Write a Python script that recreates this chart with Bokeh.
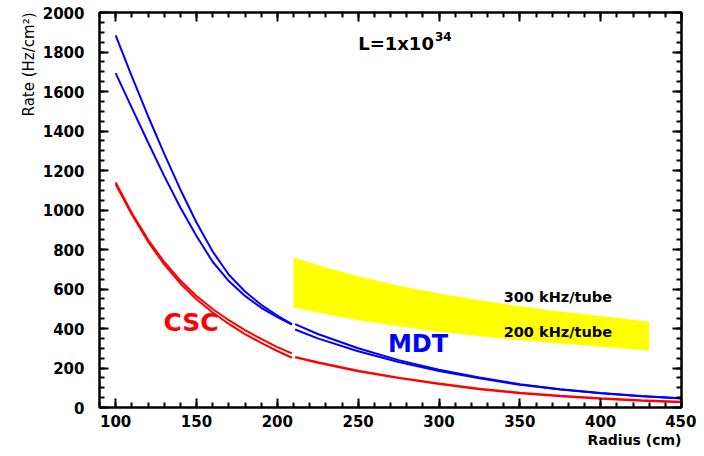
from bokeh.plotting import figure
from bokeh.models import Range1d, LinearAxis, Label, SingleIntervalTicker, Title, CustomJSTickFormatter
from bokeh.embed import file_html
from bokeh.resources import INLINE

# ---- data ----
r_in = [100, 110, 120, 130, 140, 150, 160, 170, 180, 190, 200, 209]
mdt_in_hi = [1884, 1677, 1476, 1285, 1104, 937, 790, 672, 587, 520, 465, 422]
mdt_in_lo = [1693, 1517, 1343, 1173, 1013, 868, 738, 640, 565, 505, 458, 420]
csc_in_a = [1140, 985, 850, 737, 643, 565, 499, 442, 392, 347, 306, 274]
csc_in_b = [1130, 977, 840, 725, 628, 548, 481, 423, 372, 327, 286, 252]

r_out = [211, 225, 250, 275, 300, 325, 350, 375, 400, 425, 450]
mdt_out_hi = [422, 372, 300, 240, 191, 152, 118, 93, 73, 58, 47]
mdt_out_lo = [395, 350, 285, 230, 185, 148, 115, 91, 72, 57, 46]
csc_out = [255, 228, 185, 150, 120, 94, 74, 58, 46, 36, 28]

band_r = [210, 230, 250, 275, 300, 325, 350, 375, 400, 430]
band_lo = [506, 472, 442, 411, 384, 361, 341, 324, 308, 289]
band_hi = [760, 709, 664, 617, 577, 543, 513, 486, 463, 434]

FONT = "DejaVu Sans"

p = figure(width=696, height=448, output_backend="svg", toolbar_location=None,
           x_range=Range1d(90, 450), y_range=Range1d(0, 2000),
           min_border_left=99, min_border_right=15, min_border_top=12, min_border_bottom=41)
p.background_fill_color = "white"
p.border_fill_color = "white"
p.xgrid.visible = False
p.ygrid.visible = False
p.outline_line_color = "black"
p.outline_line_width = 2

def style_axis(ax, labels=True):
    ax.axis_line_width = 2
    ax.axis_line_color = "black"
    ax.major_tick_in = 9
    ax.major_tick_out = 0
    ax.minor_tick_in = 5
    ax.minor_tick_out = 0
    ax.major_tick_line_width = 2
    ax.minor_tick_line_width = 2
    ax.major_tick_line_color = "black"
    ax.minor_tick_line_color = "black"
    if labels:
        ax.major_label_text_font = FONT
        ax.major_label_text_font_style = "bold"
        ax.major_label_text_font_size = "15px"
        ax.major_label_text_color = "black"
    else:
        ax.formatter = CustomJSTickFormatter(code="return ''")
        ax.major_label_standoff = 0

p.xaxis.ticker = SingleIntervalTicker(interval=50, num_minor_ticks=5)
p.yaxis.ticker = SingleIntervalTicker(interval=200, num_minor_ticks=4)
style_axis(p.xaxis[0])
style_axis(p.yaxis[0])
p.xaxis.major_label_standoff = 7
p.yaxis.major_label_standoff = 15

top = LinearAxis(ticker=SingleIntervalTicker(interval=50, num_minor_ticks=5))
right = LinearAxis(ticker=SingleIntervalTicker(interval=200, num_minor_ticks=4))
style_axis(top, labels=False)
style_axis(right, labels=False)
p.add_layout(top, "above")
p.add_layout(right, "right")

# axis titles, ROOT style (aligned to the axis ends)
p.add_layout(Title(text="Radius (cm)", align="right", text_font=FONT, text_font_style="bold",
                   text_font_size="14px", text_color="black", standoff=0), "below")
p.add_layout(Title(text="Rate (Hz/cm²)", align="right", text_font=FONT, text_font_style="normal",
                   text_font_size="15px", text_color="black", standoff=4), "left")

# yellow band
p.varea(x=band_r, y1=band_lo, y2=band_hi, fill_color="#ffff00")

# curves
p.line(r_in, mdt_in_hi, line_color="#0000ff", line_width=2)
p.line(r_in, mdt_in_lo, line_color="#0000ff", line_width=2)
p.line(r_in, csc_in_a, line_color="#ff0000", line_width=2)
p.line(r_in, csc_in_b, line_color="#ff0000", line_width=2)
p.line(r_out, mdt_out_hi, line_color="#0000ff", line_width=2)
p.line(r_out, mdt_out_lo, line_color="#0000ff", line_width=2)
p.line(r_out, csc_out, line_color="#ff0000", line_width=2.5)

def lab(x, y, t, size, color="black", style="bold", align="left", baseline="middle"):
    p.add_layout(Label(x=x, y=y, text=t, text_font=FONT, text_font_style=style,
                       text_font_size=size, text_color=color, text_align=align,
                       text_baseline=baseline))

lab(250, 1843, "L=1x10", "18px")
lab(297.5, 1880, "34", "12px")
lab(146.6, 430, "CSC", "25px", color="#ff0000", align="center")
lab(287, 324, "MDT", "24px", color="#0000ff", align="center")
lab(340, 562, "300 kHz/tube", "14.5px")
lab(340, 380, "200 kHz/tube", "14.5px")

open("out.html", "w").write(file_html(p, INLINE))
